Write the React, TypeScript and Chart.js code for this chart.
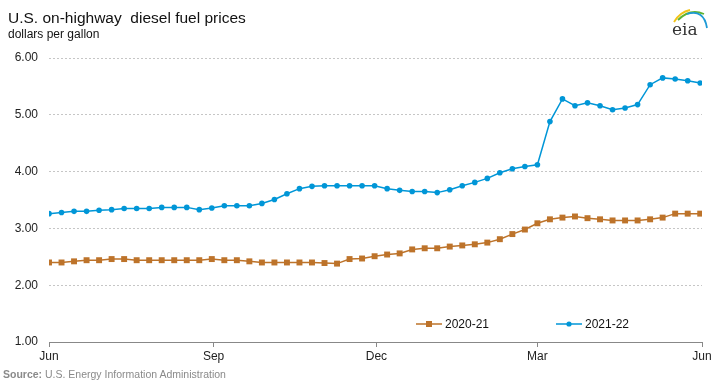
import React, { useEffect, useRef } from 'react';
import { Chart, registerables } from 'chart.js';

Chart.register(...registerables);

// ---- data ----
const seriesLabels = ['2020-21', '2021-22'];
const seriesColors = ['#BD732A', '#0096D7'];
const monthTickDays = [0, 92, 183, 273, 365];
const monthTickLabels = ['Jun', 'Sep', 'Dec', 'Mar', 'Jun'];
const daysPerWeek = 7;

const prices2020_21 = [
  2.40, 2.40, 2.42, 2.44, 2.44, 2.46, 2.46, 2.44, 2.44, 2.44, 2.44, 2.44, 2.44,
  2.46, 2.44, 2.44, 2.42, 2.40, 2.40, 2.40, 2.40, 2.40, 2.39, 2.38, 2.46, 2.47,
  2.51, 2.54, 2.56, 2.63, 2.65, 2.65, 2.68, 2.70, 2.72, 2.75, 2.81, 2.90, 2.98,
  3.09, 3.16, 3.19, 3.21, 3.18, 3.16, 3.14, 3.14, 3.14, 3.16, 3.19, 3.26, 3.26,
  3.26,
];

const prices2021_22 = [
  3.26, 3.28, 3.30, 3.30, 3.32, 3.33, 3.35, 3.35, 3.35, 3.37, 3.37, 3.37, 3.33,
  3.36, 3.40, 3.40, 3.40, 3.44, 3.51, 3.61, 3.70, 3.74, 3.75, 3.75, 3.75, 3.75,
  3.75, 3.70, 3.67, 3.65, 3.65, 3.63, 3.68, 3.75, 3.81, 3.88, 3.98, 4.05, 4.09,
  4.12, 4.88, 5.28, 5.16, 5.21, 5.16, 5.09, 5.12, 5.18, 5.53, 5.65, 5.63, 5.60,
  5.56,
];

const FONT = '"Liberation Sans", Arial, sans-serif';

const toPoints = (arr: number[]) => arr.map((y, i) => ({ x: i * daysPerWeek, y }));

const legendPlugin = {
  id: 'insideLegend',
  afterDraw(chart: any) {
    const { ctx, chartArea } = chart;
    const y = chartArea.bottom - 18;
    const starts = [chartArea.right - 286, chartArea.right - 146];
    ctx.save();
    chart.data.datasets.forEach((ds: any, i: number) => {
      const x0 = starts[i];
      ctx.strokeStyle = ds.borderColor;
      ctx.lineWidth = 1.5;
      ctx.beginPath();
      ctx.moveTo(x0, y);
      ctx.lineTo(x0 + 26, y);
      ctx.stroke();
      ctx.fillStyle = ds.pointBackgroundColor;
      const cx = x0 + 13;
      if (ds.pointStyle === 'rect') {
        ctx.fillRect(cx - 3, y - 3, 6, 6);
      } else {
        ctx.beginPath();
        ctx.arc(cx, y, 2.6, 0, Math.PI * 2);
        ctx.fill();
      }
      ctx.fillStyle = '#111';
      ctx.font = `12px ${FONT}`;
      ctx.textBaseline = 'middle';
      ctx.textAlign = 'left';
      ctx.fillText(ds.label, x0 + 29, y + 0.5);
    });
    ctx.restore();
  },
};

export default function App() {
  const ref = useRef<HTMLCanvasElement | null>(null);

  useEffect(() => {
    if (!ref.current) return;
    const chart = new Chart(ref.current, {
      type: 'line',
      data: {
        datasets: [
          {
            label: seriesLabels[0],
            data: toPoints(prices2020_21),
            borderColor: seriesColors[0],
            backgroundColor: seriesColors[0],
            pointBackgroundColor: seriesColors[0],
            pointBorderWidth: 0,
            pointStyle: 'rect',
            pointRadius: 4.2,
            borderWidth: 1.5,
            tension: 0,
          },
          {
            label: seriesLabels[1],
            data: toPoints(prices2021_22),
            borderColor: seriesColors[1],
            backgroundColor: seriesColors[1],
            pointBackgroundColor: seriesColors[1],
            pointBorderWidth: 0,
            pointStyle: 'circle',
            pointRadius: 2.8,
            borderWidth: 1.5,
            tension: 0,
          },
        ],
      },
      options: {
        animation: false,
        responsive: false,
        devicePixelRatio: 1,
        layout: { padding: { top: 58, right: 17, bottom: 0, left: 0 } },
        plugins: {
          legend: { display: false },
          tooltip: { enabled: false },
          title: { display: false },
        },
        scales: {
          x: {
            type: 'linear',
            min: monthTickDays[0],
            max: monthTickDays[monthTickDays.length - 1],
            afterBuildTicks: (scale: any) => {
              scale.ticks = monthTickDays.map((v) => ({ value: v }));
            },
            afterFit: (scale: any) => {
              scale.height = 42;
            },
            ticks: {
              autoSkip: false,
              maxRotation: 0,
              padding: 2,
              color: '#222',
              font: { family: FONT, size: 12 },
              callback: (_v: any, i: number) => monthTickLabels[i],
            },
            grid: {
              display: true,
              drawOnChartArea: false,
              drawTicks: true,
              tickLength: 5,
              color: '#888',
            },
            border: { display: true, color: '#888', width: 1 },
          },
          y: {
            min: 1,
            max: 6,
            afterFit: (scale: any) => {
              scale.width = 49;
            },
            ticks: {
              stepSize: 1,
              padding: 11,
              color: '#222',
              font: { family: FONT, size: 12 },
              callback: (v: any) => Number(v).toFixed(2),
            },
            grid: {
              color: '#c6c6c6',
              drawTicks: false,
              lineWidth: 1,
            },
            border: { display: false, dash: [2, 2] },
          },
        },
      },
      plugins: [legendPlugin],
    });
    return () => chart.destroy();
  }, []);

  return (
    <div style={{ position: 'absolute', left: 0, top: 0, width: 719, height: 384, background: '#fff', fontFamily: FONT }}>
      <canvas ref={ref} width={719} height={384} style={{ position: 'absolute', left: 0, top: 0, width: 719, height: 384 }} />
      <div style={{ position: 'absolute', left: 8, top: 10, fontSize: 15.5, lineHeight: 1, color: '#111', whiteSpace: 'pre' }}>
        {'U.S. on-highway  diesel fuel prices'}
      </div>
      <div style={{ position: 'absolute', left: 8, top: 28, fontSize: 12, lineHeight: 1, color: '#111', whiteSpace: 'pre' }}>
        dollars per gallon
      </div>
      <div style={{ position: 'absolute', left: 3, top: 369, fontSize: 10.5, lineHeight: 1, color: '#8a8a8a', whiteSpace: 'pre' }}>
        <b>Source:</b> U.S. Energy Information Administration
      </div>
      <svg style={{ position: 'absolute', left: 660, top: 0 }} width={59} height={45} viewBox="660 0 59 45">
        <path d="M674 22 Q680 12 690 10" stroke="#f2c318" strokeWidth={1.8} fill="none" />
        <path d="M678 20 Q690 8 704 14" stroke="#5fb332" strokeWidth={1.8} fill="none" />
        <path d="M687 14 Q704 9 707 28" stroke="#1e9ad6" strokeWidth={1.8} fill="none" />
        <text x={672} y={35} fontFamily='"DejaVu Serif", "Liberation Serif", serif' fontSize={17} fill="#333">eia</text>
      </svg>
    </div>
  );
}
